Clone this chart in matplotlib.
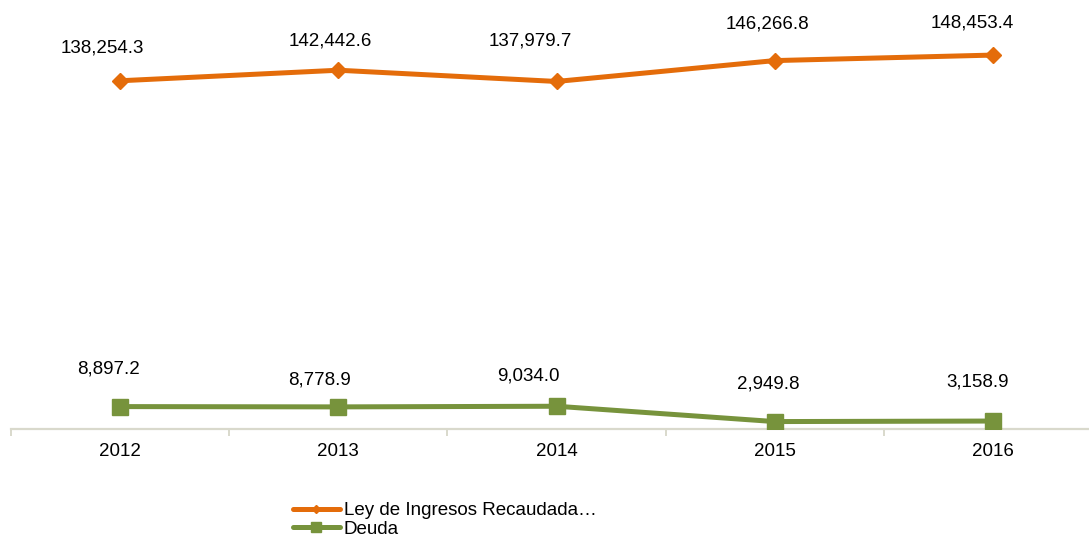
import matplotlib.pyplot as plt
import numpy as np

# ===== DONNEES ===== #
years = ["2012", "2013", "2014", "2015", "2016"]
ley_ingresos = [138254.3, 142442.6, 137979.7, 146266.8, 148453.4]
deuda = [8897.2, 8778.9, 9034.0, 2949.8, 3158.9]
series_names = ["Ley de Ingresos Recaudada\u2026", "Deuda"]

# decalage des etiquettes (pixels) placees a la main comme dans l'original
off_ley = [(-18, 33), (-8, 29), (-26, 40), (-7, 37), (-21, 32)]
off_deuda = [(-12, 38), (-19, 27), (-28, 30), (-6, 38), (-15, 39)]

ORANGE = "#E46C0A"
GREEN = "#77933C"
AXIS = "#D9D9CC"

plt.rcParams['font.family'] = ['Liberation Sans', 'DejaVu Sans']

W, H = 1089, 538
fig = plt.figure(figsize=(W / 100, H / 100), dpi=100)
ax = fig.add_axes([11 / W, (H - 429) / H, (1102 - 11) / W, (429 - 26) / H])

x = np.arange(len(years))
l1, = ax.plot(x, ley_ingresos, color=ORANGE, lw=3.6, marker="D", ms=7.8,
              solid_capstyle="round", zorder=3)
l2, = ax.plot(x, deuda, color=GREEN, lw=3.6, marker="s", ms=12,
              solid_capstyle="round", zorder=3)

for xi, v, (dx, dy) in zip(x, ley_ingresos, off_ley):
    ax.annotate(f"{v:,.1f}", (xi, v), xytext=(dx, dy), textcoords="offset pixels",
                ha="center", va="center", fontsize=13.5, color="#000000")
for xi, v, (dx, dy) in zip(x, deuda, off_deuda):
    ax.annotate(f"{v:,.1f}", (xi, v), xytext=(dx, dy), textcoords="offset pixels",
                ha="center", va="center", fontsize=13.5, color="#000000")

ax.set_xlim(-0.5, len(years) - 0.5)
ax.set_ylim(0, 160000)
ax.set_yticks([])
for s in ["top", "left", "right"]:
    ax.spines[s].set_visible(False)
ax.spines["bottom"].set_color(AXIS)
ax.spines["bottom"].set_linewidth(1.6)

ax.set_xticks(x)
ax.set_xticklabels(years, fontsize=13.5)
ax.tick_params(axis="x", which="major", length=0, pad=10)
ax.set_xticks(np.arange(-0.5, len(years)), minor=True)
ax.tick_params(axis="x", which="minor", length=5, width=1.4, color=AXIS, direction="out")

fig.legend([l1, l2], series_names, loc="upper left",
           bbox_to_anchor=(293 / W, 1 - 502 / H), frameon=False, fontsize=13.5,
           borderpad=0, borderaxespad=0, handlelength=2.5, handletextpad=0.2,
           labelspacing=0.08, markerscale=0.55)

fig.savefig("out.png", dpi=100)
